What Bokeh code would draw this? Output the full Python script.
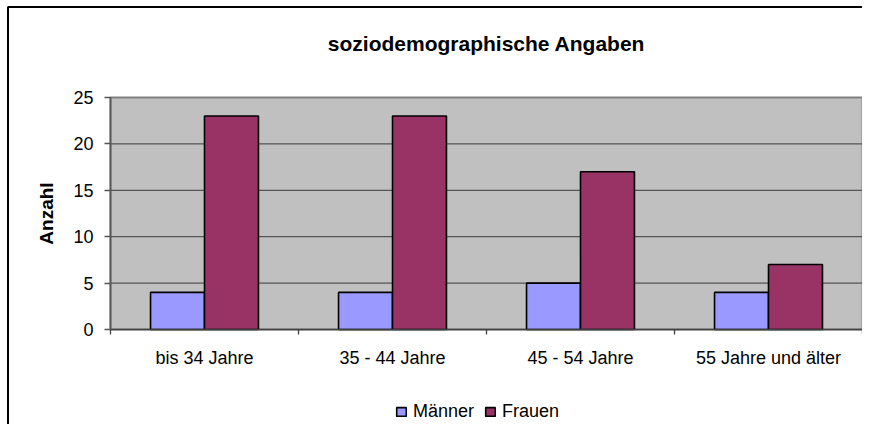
from bokeh.plotting import figure
from bokeh.models import FixedTicker, Legend, LegendItem, Label, Range1d
from bokeh.embed import file_html
from bokeh.resources import INLINE

# ---- data ----
categories = ["bis 34 Jahre", "35 - 44 Jahre", "45 - 54 Jahre", "55 Jahre und älter"]
maenner = [4, 4, 5, 4]
frauen = [23, 23, 17, 7]
series_names = ["Männer", "Frauen"]
y_ticks = [0, 5, 10, 15, 20, 25]
title_text = "soziodemographische Angaben"
y_label = "Anzahl"

# ---- layout (pixels) ----
W, H = 862, 424
PLOT_L, PLOT_R = 110, 862
PLOT_T, PLOT_B = 97, 329
FONT = "Liberation Sans"
bar_w = 0.287

ncat = len(categories)
xpx = (PLOT_R - PLOT_L) / ncat
ypx = (PLOT_B - PLOT_T) / (y_ticks[-1] - y_ticks[0])
x_range = Range1d(-PLOT_L / xpx, ncat + (W - PLOT_R) / xpx)
y_range = Range1d(y_ticks[0] - (H - PLOT_B) / ypx, y_ticks[0] + PLOT_B / ypx)

def ydat(py):
    return y_ticks[0] + (PLOT_B - py) / ypx

def xdat(px):
    return (px - PLOT_L) / xpx

pos = [i + 0.5 for i in range(ncat)]

p = figure(width=W, height=H, x_range=x_range, y_range=y_range,
           output_backend="svg", toolbar_location=None, min_border=0)
p.outline_line_color = None
p.background_fill_color = "white"
p.border_fill_color = "white"
p.grid.visible = False

# outer chart frame (only left and top edges visible)
p.quad(left=[xdat(7.5)], right=[xdat(W + 50)], top=[ydat(6.5)], bottom=[ydat(H + 50)],
       fill_color=None, line_color="black", line_width=2)

# plot area background
p.quad(left=[0], right=[ncat], bottom=[y_ticks[0]], top=[y_ticks[-1]],
       fill_color="#C0C0C0", line_color="#808080", line_width=2)
# gridlines
inner = y_ticks[1:-1]
p.segment(x0=[0] * len(inner), x1=[ncat] * len(inner), y0=inner, y1=inner,
          line_color="#555555", line_width=1.3)

# bars
r1 = p.vbar(x=[c - bar_w / 2 for c in pos], top=maenner, width=bar_w,
            fill_color="#9999FF", line_color="black", line_width=1.6)
r2 = p.vbar(x=[c + bar_w / 2 for c in pos], top=frauen, width=bar_w,
            fill_color="#993366", line_color="black", line_width=1.6)

# y axis
ya = p.yaxis[0]
ya.fixed_location = 0
ya.bounds = (y_ticks[0], y_ticks[-1])
ya.ticker = FixedTicker(ticks=y_ticks)
ya.axis_line_color = "#555555"
ya.axis_line_width = 1.6
ya.major_tick_line_color = "#555555"
ya.major_tick_line_width = 1.3
ya.major_tick_out = 6
ya.major_tick_in = 0
ya.minor_tick_line_color = None
ya.major_label_text_font = FONT
ya.major_label_text_font_size = "18px"
ya.major_label_text_color = "black"
ya.major_label_standoff = 11
ya.axis_label = y_label
ya.axis_label_text_font = FONT
ya.axis_label_text_font_size = "19px"
ya.axis_label_text_font_style = "bold"
ya.axis_label_text_color = "black"
ya.axis_label_standoff = 13

# x axis
xa = p.xaxis[0]
xa.fixed_location = y_ticks[0]
xa.bounds = (0, ncat)
xa.ticker = FixedTicker(ticks=pos, minor_ticks=list(range(ncat + 1)))
xa.major_label_overrides = {c: lab for c, lab in zip(pos, categories)}
xa.axis_line_color = "#404040"
xa.axis_line_width = 1.6
xa.major_tick_line_color = None
xa.major_tick_out = 5
xa.major_tick_in = 0
xa.minor_tick_line_color = "#404040"
xa.minor_tick_line_width = 1.3
xa.minor_tick_out = 5
xa.minor_tick_in = 0
xa.major_label_text_font = FONT
xa.major_label_text_font_size = "18px"
xa.major_label_text_color = "black"
xa.major_label_standoff = 13

# title
p.add_layout(Label(x=ncat / 2, y=ydat(43), text=title_text,
                   text_align="center", text_baseline="alphabetic",
                   text_font=FONT, text_font_size="21px", text_font_style="bold",
                   text_color="black"))

# legend
legend = Legend(items=[LegendItem(label=series_names[0], renderers=[r1]),
                       LegendItem(label=series_names[1], renderers=[r2])],
                orientation="horizontal", location=(395, 2),
                label_text_font=FONT, label_text_font_size="18px", label_text_color="black",
                label_height=20, glyph_width=12, glyph_height=11,
                spacing=10, label_standoff=6,
                padding=0, margin=0, border_line_color=None, background_fill_alpha=0)
p.add_layout(legend)

open("out.html", "w").write(file_html(p, INLINE))
